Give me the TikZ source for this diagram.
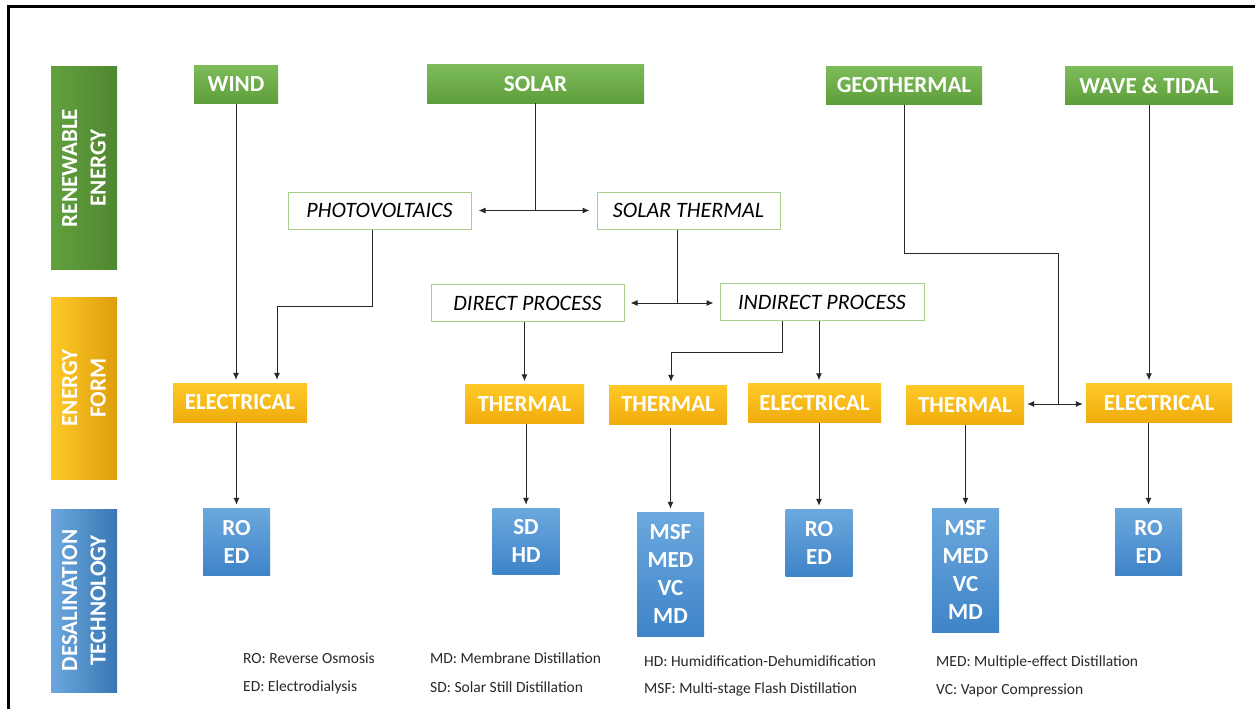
\documentclass[tikz,border=0pt]{standalone}
\usepackage{fontspec}
\setmainfont{Carlito}
\usetikzlibrary{arrows.meta}

\definecolor{grntop}{RGB}{125,187,90}
\definecolor{grnbot}{RGB}{94,158,58}
\definecolor{yeltop}{RGB}{255,201,40}
\definecolor{yelbot}{RGB}{240,172,12}
\definecolor{blutop}{RGB}{108,168,222}
\definecolor{blubot}{RGB}{62,132,200}
\definecolor{procline}{RGB}{168,208,141}
\definecolor{wire}{RGB}{40,40,40}
\definecolor{legtext}{RGB}{40,40,40}

\begin{document}
\begin{tikzpicture}[x=1pt,y=-1pt,
  srcbox/.style={minimum height=38pt,inner sep=0pt,top color=grntop,bottom color=grnbot,
    text=white,font=\fontsize{23}{27}\selectfont\bfseries},
  procbox/.style={draw=procline,line width=1pt,fill=white,minimum height=37pt,inner sep=0pt,
    font=\fontsize{22}{26}\selectfont\itshape},
  formbox/.style={minimum height=39pt,inner sep=0pt,top color=yeltop,bottom color=yelbot,
    text=white,font=\fontsize{23}{27}\selectfont\bfseries},
  techbox/.style={minimum width=67pt,inner sep=0pt,top color=blutop,bottom color=blubot,
    text=white,align=center,font=\fontsize{23}{28}\selectfont\bfseries},
  sidebar/.style={minimum width=66pt,inner sep=0pt},
  sidetext/.style={rotate=90,align=center,text=white,font=\fontsize{23}{28.5}\selectfont\bfseries},
  legend/.style={anchor=west,inner sep=0pt,text=legtext,font=\fontsize{15.5}{18}\selectfont},
  line/.style={draw=wire,line width=1pt},
  arr/.style={line,-{Latex[length=7pt,width=6pt]},shorten >=3pt}
]
\useasboundingbox (0,0) rectangle (1255,709);
\fill[white] (0,0) rectangle (1255,709);
% frame
\draw[black,line width=3pt] (1260,6.5) -| (8,715);

% side bars
\node[sidebar,minimum height=202pt,left color=grnbot!90!grntop,right color=grnbot!85!black] (barre) at (84,168) {};
\node[sidetext] (labre) at (barre) {RENEWABLE\\ENERGY};
\node[sidebar,minimum height=182pt,left color=yeltop,right color=yelbot!92!black] (barform) at (84,388) {};
\node[sidetext] (labform) at (barform) {ENERGY\\FORM};
\node[sidebar,minimum height=183pt,left color=blutop,right color=blubot!90!black] (bartech) at (84,600.5) {};
\node[sidetext] (labtech) at (bartech) {DESALINATION\\TECHNOLOGY};

% sources
\node[srcbox,minimum width=84pt] (wind) at (236,84.5) {WIND};
\node[srcbox,minimum width=217pt] (solar) at (535.5,84) {SOLAR};
\node[srcbox,minimum width=156pt] (geo) at (904,85.5) {GEOTHERMAL};
\node[srcbox,minimum width=168pt] (wave) at (1149,85.5) {WAVE \& TIDAL};

% conversion routes
\node[procbox,minimum width=183pt] (pv) at (379.5,210.5) {PHOTOVOLTAICS};
\node[procbox,minimum width=183pt] (st) at (688.5,210.5) {SOLAR THERMAL};
\node[procbox,minimum width=193pt] (dp) at (527.5,303) {DIRECT PROCESS};
\node[procbox,minimum width=204pt] (ip) at (822,302) {INDIRECT PROCESS};

% energy forms
\node[formbox,minimum width=134pt] (el1) at (240,402.5) {ELECTRICAL};
\node[formbox,minimum width=119pt] (th1) at (524.5,404) {THERMAL};
\node[formbox,minimum width=118pt] (th2) at (668,404.5) {THERMAL};
\node[formbox,minimum width=133pt] (el2) at (814.5,403) {ELECTRICAL};
\node[formbox,minimum width=118pt] (th3) at (965,405) {THERMAL};
\node[formbox,minimum width=146pt] (el3) at (1159,403) {ELECTRICAL};

% technologies
\node[techbox,minimum height=67pt] (tc1) at (236.5,541.5) {RO\\ED};
\node[techbox,minimum height=66pt] (tc2) at (526,541) {SD\\HD};
\node[techbox,minimum height=124pt] (tc3) at (670.5,574) {MSF\\MED\\VC\\MD};
\node[techbox,minimum height=67pt] (tc4) at (819,542.5) {RO\\ED};
\node[techbox,minimum height=124pt] (tc5) at (965.5,570) {MSF\\MED\\VC\\MD};
\node[techbox,minimum height=67pt] (tc6) at (1148.5,541.5) {RO\\ED};

% turning points
\coordinate (sj) at (solar.south |- pv.east);
\coordinate (pvturn) at (277,306);
\coordinate (stj) at ([xshift=-11pt]st.south |- dp.east);
\coordinate (ipturn) at (671,352);
\coordinate (geoturn) at (1058,253);
\coordinate (geoj) at (1058,404);
\coordinate (th2out) at ([yshift=-4pt]th2.south);

% wind
\draw[arr] (wind.south) -- (wind.south |- el1.north);
% solar
\draw[line] (solar.south) -- (sj);
\draw[arr,shorten >=7pt] (sj) -- (sj -| pv.east);
\draw[arr,shorten >=7pt] (sj) -- (sj -| st.west);
\draw[arr] ([xshift=-7pt]pv.south) |- (pvturn) -- (pvturn |- el1.north);
\draw[line] ([xshift=-11pt]st.south) -- (stj);
\draw[arr,shorten >=6pt] (stj) -- (stj -| dp.east);
\draw[arr,shorten >=6pt] (stj) -- (stj -| ip.west);
\draw[arr] (dp.south -| th1.north) -- (th1.north);
\draw[arr] ([xshift=-40pt]ip.south) |- (ipturn) -- (ipturn |- th2.north);
\draw[arr] ([xshift=-3pt]ip.south) -- ([xshift=4.5pt]el2.north);
% geothermal
\draw[line] (geo.south) |- (geoturn) -- (geoj);
\draw[arr] (geoj) -- (geoj -| th3.east);
\draw[arr] (geoj) -- (geoj -| el3.west);
% wave and tidal
\draw[arr] (wave.south) -- (wave.south |- el3.north);

% forms to technologies
\draw[arr] (tc1.north |- el1.south) -- (tc1.north);
\draw[arr] (tc2.north |- th1.south) -- (tc2.north);
\draw[arr] (tc3.north |- th2out) -- (tc3.north);
\draw[arr] (tc4.north |- el2.south) -- (tc4.north);
\draw[arr] (tc5.north |- th3.south) -- (tc5.north);
\draw[arr] (tc6.north |- el3.south) -- (tc6.north);

% abbreviations
\node[legend] (lgro) at (243,658) {RO: Reverse Osmosis};
\node[legend] (lged) at (243,687) {ED: Electrodialysis};
\node[legend] (lgmd) at (430,658) {MD: Membrane Distillation};
\node[legend] (lgsd) at (430,687) {SD: Solar Still Distillation};
\node[legend] (lghd) at (644,661) {HD: Humidification-Dehumidification};
\node[legend] (lgmsf) at (644,689) {MSF: Multi-stage Flash Distillation};
\node[legend] (lgmed) at (936,662) {MED: Multiple-effect Distillation};
\node[legend] (lgvc) at (936,690) {VC: Vapor Compression};
\end{tikzpicture}
\end{document}
